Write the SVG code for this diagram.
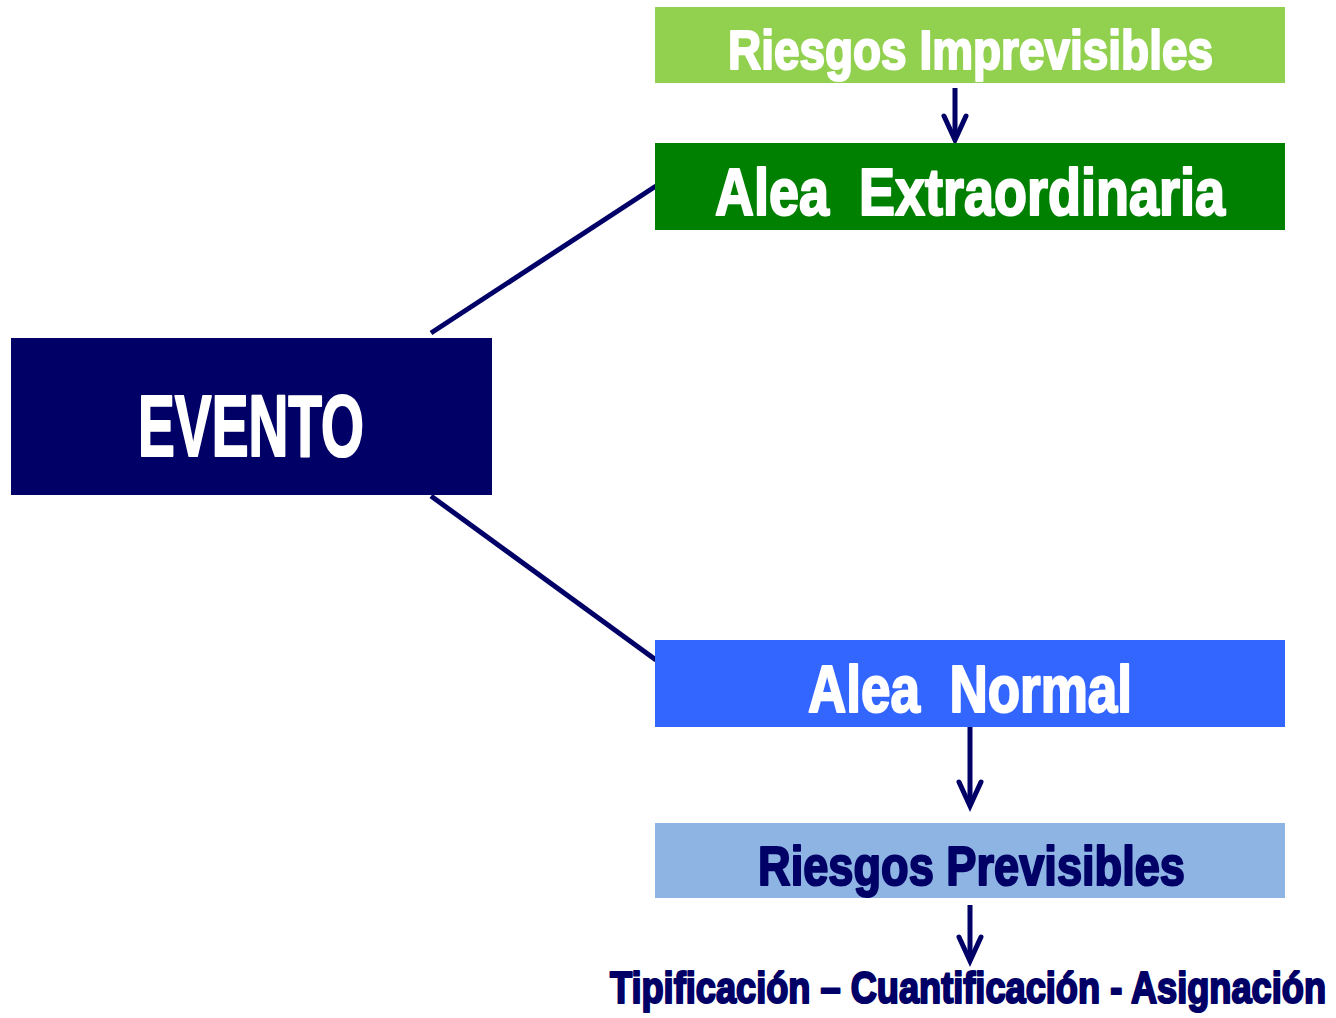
<svg xmlns="http://www.w3.org/2000/svg" width="1336" height="1018" viewBox="0 0 1336 1018">
<style>
.t{font-family:"Liberation Sans Narrow","Liberation Sans","DejaVu Sans Condensed",sans-serif;font-weight:bold;stroke-linejoin:round}
.w{fill:#FFFFFF;stroke:#FFFFFF;stroke-width:2.2}
.n{fill:#000066;stroke:#000066;stroke-width:2.2}
.c{stroke:#000066;stroke-width:5;fill:none}
.a{stroke:#000066;stroke-width:5;fill:none;stroke-linecap:round;stroke-linejoin:miter}
</style>
<rect width="1336" height="1018" fill="#FFFFFF"/>
<g id="connectors">
<line class="c" x1="431" y1="333" x2="656" y2="186"/>
<line class="c" x1="431" y1="496" x2="656" y2="660"/>
<line class="c" x1="955" y1="88" x2="955" y2="138"/>
<polyline class="a" points="944,116 955,140 966,116"/>
<line class="c" x1="970" y1="727" x2="970" y2="804"/>
<polyline class="a" points="959,782 970,806 981,782"/>
<line class="c" x1="970" y1="905" x2="970" y2="959"/>
<polyline class="a" points="959,937 970,961 981,937"/>
</g>
<g id="riesgos-imprevisibles">
<rect x="655" y="7" width="630" height="76" fill="#92D050"/>
<text class="t w" x="728" y="69" font-size="56" textLength="485" lengthAdjust="spacingAndGlyphs">Riesgos Imprevisibles</text>
</g>
<g id="alea-extraordinaria">
<rect x="655" y="143" width="630" height="87" fill="#008000"/>
<text class="t w" x="715" y="215" font-size="66" textLength="510" lengthAdjust="spacingAndGlyphs" xml:space="preserve">Alea  Extraordinaria</text>
</g>
<g id="evento">
<rect x="11" y="338" width="481" height="157" fill="#000066"/>
<text class="t w" x="138" y="456" font-size="88" textLength="226" lengthAdjust="spacingAndGlyphs">EVENTO</text>
</g>
<g id="alea-normal">
<rect x="655" y="640" width="630" height="87" fill="#3366FF"/>
<text class="t w" x="808" y="712" font-size="66" textLength="324" lengthAdjust="spacingAndGlyphs" xml:space="preserve">Alea  Normal</text>
</g>
<g id="riesgos-previsibles">
<rect x="655" y="823" width="630" height="75" fill="#8EB4E3"/>
<text class="t n" x="758" y="885" font-size="56" textLength="427" lengthAdjust="spacingAndGlyphs">Riesgos Previsibles</text>
</g>
<g id="tipificacion">
<text class="t n" x="610" y="1003" font-size="44" textLength="716" lengthAdjust="spacingAndGlyphs">Tipificación – Cuantificación - Asignación</text>
</g>
</svg>
